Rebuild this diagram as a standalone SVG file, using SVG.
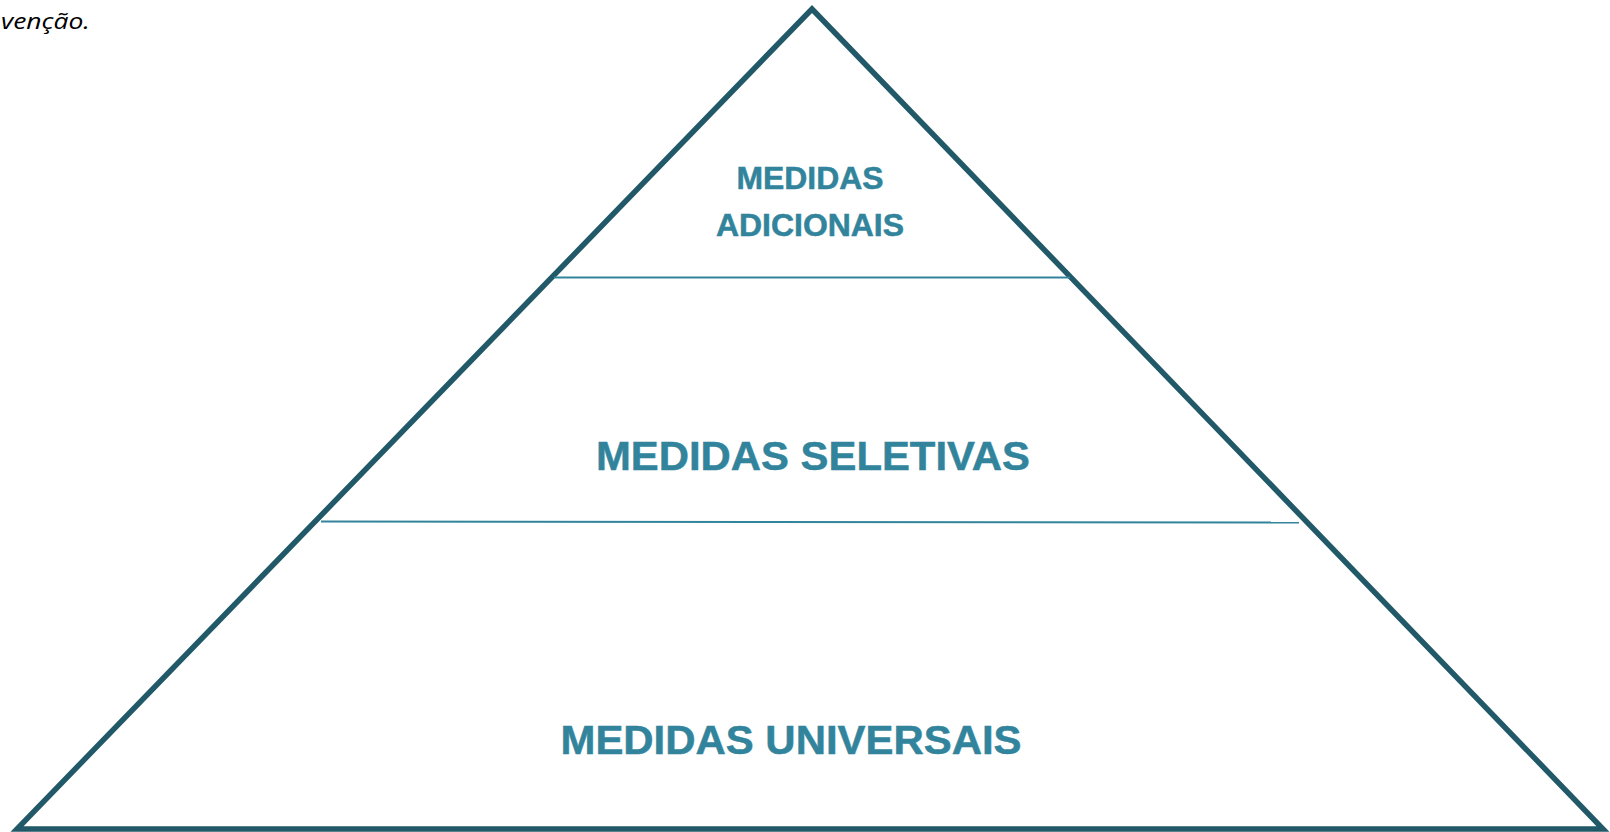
<svg xmlns="http://www.w3.org/2000/svg" width="1610" height="832" viewBox="0 0 1610 832">
<style>
.lbl{font-family:"Liberation Sans",Arial,sans-serif;font-weight:bold;fill:#31849B;stroke:#31849B;stroke-width:0.5;text-anchor:middle}
.div{stroke:#31849B;stroke-width:2;fill:none}
</style>
<rect width="1610" height="832" fill="#ffffff"/>
<text x="1" y="29" font-family="'Open Sans',sans-serif" font-style="italic" font-size="22" fill="#000" textLength="89" lengthAdjust="spacingAndGlyphs">venção.</text>
<g id="pyramid">
<polygon points="812,9 17,829 1603,829" fill="#ffffff" stroke="#215968" stroke-width="5.5" stroke-linejoin="miter" stroke-miterlimit="10"/>
</g>
<g id="connectors">
<line class="div" x1="554" y1="277.5" x2="1070" y2="277.5"/>
<line class="div" x1="321" y1="521.5" x2="1299" y2="522.5"/>
</g>
<g id="node-adicionais">
<text class="lbl" x="810" y="189" font-size="30.5" textLength="147" lengthAdjust="spacingAndGlyphs">MEDIDAS</text>
<text class="lbl" x="810" y="236" font-size="30.5" textLength="188" lengthAdjust="spacingAndGlyphs">ADICIONAIS</text>
</g>
<g id="node-seletivas">
<text class="lbl" x="813" y="470" font-size="41" textLength="434" lengthAdjust="spacingAndGlyphs">MEDIDAS SELETIVAS</text>
</g>
<g id="node-universais">
<text class="lbl" x="791" y="754" font-size="41" textLength="461" lengthAdjust="spacingAndGlyphs">MEDIDAS UNIVERSAIS</text>
</g>
</svg>
